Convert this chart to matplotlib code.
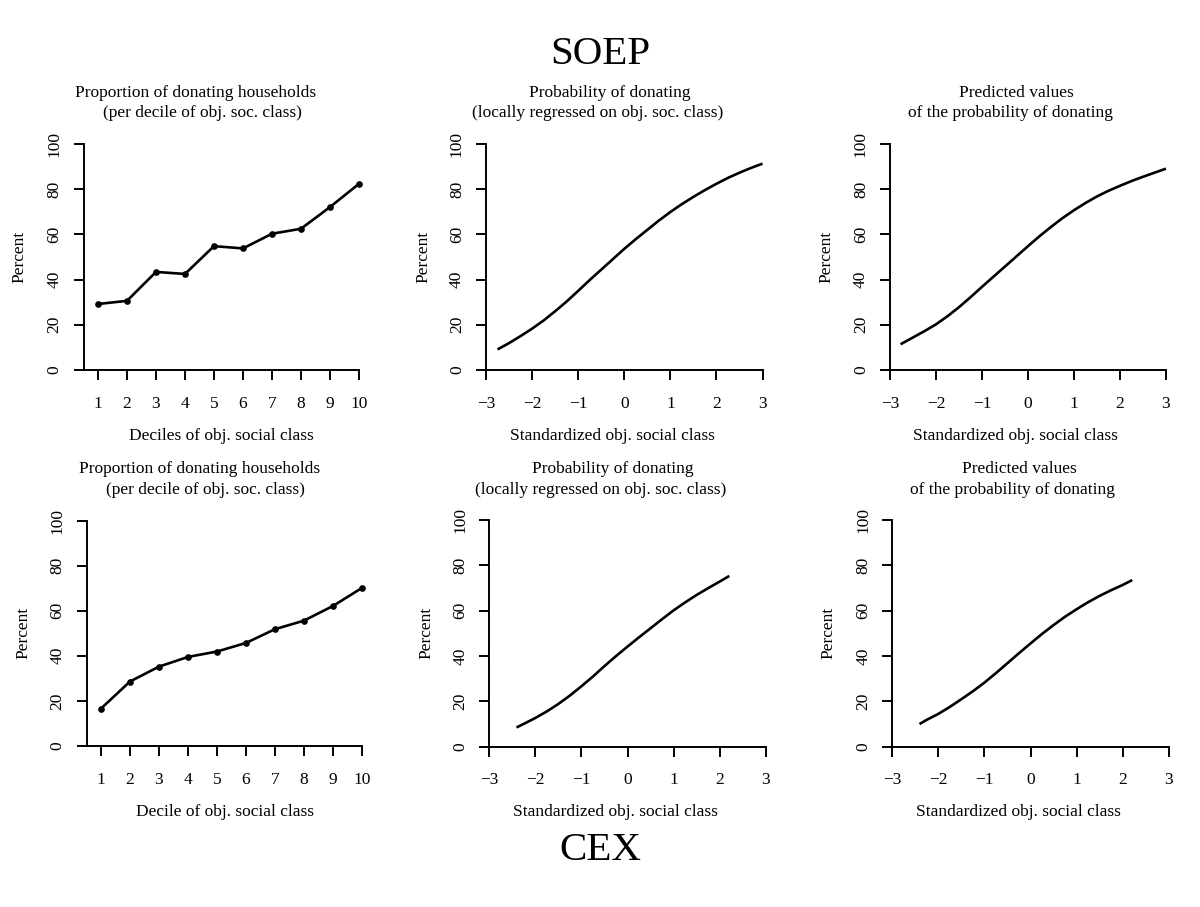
import matplotlib
matplotlib.use('Agg')
import matplotlib.pyplot as plt

plt.rcParams['font.family'] = ['Liberation Serif', 'DejaVu Serif']

# ---------------- data ----------------
deciles = list(range(1, 11))
soep_share = [29.2, 30.6, 43.4, 42.5, 54.8, 53.8, 60.3, 62.5, 72.1, 82.4]
cex_share = [16.6, 28.6, 35.2, 39.5, 41.9, 45.7, 51.8, 55.6, 62.1, 70.1]

soep_loess_x = [-2.75, -2.5, -2.25, -2, -1.75, -1.5, -1.25, -1, -0.75, -0.5, -0.25, 0,
                0.25, 0.5, 0.75, 1, 1.25, 1.5, 1.75, 2, 2.25, 2.5, 2.75, 3]
soep_loess_y = [9.1, 11.9, 15.0, 18.3, 21.9, 26.0, 30.3, 35.0, 39.8, 44.4, 49.0, 53.6,
                57.9, 62.0, 66.1, 69.9, 73.4, 76.6, 79.6, 82.4, 85.0, 87.3, 89.4, 91.3]

soep_pred_x = [-2.77, -2.5, -2.25, -2, -1.75, -1.5, -1.25, -1, -0.75, -0.5, -0.25, 0,
               0.25, 0.5, 0.75, 1, 1.25, 1.5, 1.75, 2, 2.25, 2.5, 2.75, 3]
soep_pred_y = [11.4, 14.4, 17.2, 20.2, 23.8, 27.8, 32.2, 36.8, 41.3, 45.8, 50.3, 54.8,
               59.2, 63.3, 67.2, 70.7, 73.9, 76.8, 79.3, 81.5, 83.6, 85.5, 87.3, 89.1]

cex_loess_x = [-2.41, -2.25, -2, -1.75, -1.5, -1.25, -1, -0.75, -0.5, -0.25, 0,
               0.25, 0.5, 0.75, 1, 1.25, 1.5, 1.75, 2, 2.21]
cex_loess_y = [8.4, 10.0, 12.6, 15.5, 18.8, 22.5, 26.6, 30.9, 35.5, 39.9, 44.1,
               48.2, 52.2, 56.2, 60.1, 63.6, 66.9, 69.9, 72.8, 75.3]

cex_pred_x = [-2.41, -2.25, -2, -1.75, -1.5, -1.25, -1, -0.75, -0.5, -0.25, 0,
              0.25, 0.5, 0.75, 1, 1.25, 1.5, 1.75, 2, 2.21]
cex_pred_y = [9.9, 11.8, 14.4, 17.5, 20.9, 24.4, 28.2, 32.4, 36.8, 41.2, 45.5,
              49.7, 53.6, 57.3, 60.6, 63.7, 66.5, 69.0, 71.3, 73.5]

y_ticks = [0, 20, 40, 60, 80, 100]
std_ticks = [-3, -2, -1, 0, 1, 2, 3]

title_prop = ["Proportion of donating households", "(per decile of obj. soc. class)"]
title_loess = ["Probability of donating", "(locally regressed on obj. soc. class)"]
title_pred = ["Predicted values", "of the probability of donating"]

# ---------------- layout ----------------
W, H = 1200, 907
fig = plt.figure(figsize=(W / 100, H / 100), dpi=100)
FS = 12.5
LW = 1.9
SPW = 1.4


def px_axes(l, r, t, b):
    return fig.add_axes([l / W, (H - b) / H, (r - l) / W, (b - t) / H])


def style(ax, xlim, xticks):
    ax.set_xlim(*xlim)
    ax.set_ylim(0, 100)
    ax.spines['top'].set_visible(False)
    ax.spines['right'].set_visible(False)
    for s in ('left', 'bottom'):
        ax.spines[s].set_linewidth(SPW)
    ax.set_xticks(xticks)
    ax.set_xticklabels([("\u2212%d" % -v) if v < 0 else str(v) for v in xticks])
    ax.set_yticks(y_ticks)
    ax.tick_params(axis='both', direction='out', length=7.2, width=SPW,
                   labelsize=FS)
    ax.tick_params(axis='x', pad=11.5)
    ax.tick_params(axis='y', pad=8)
    for lab in ax.get_yticklabels():
        lab.set_rotation(90)
        lab.set_va('center')
        lab.set_ha('right')


def figtext(x, y, s, size=FS, **kw):
    fig.text(x / W, 1 - y / H, s, ha='center', va='center', fontsize=size, **kw)


panels = [
    dict(box=(83.5, 359, 144, 370), xlim=(0.5, 10), ticks=deciles, kind='pts',
         x=deciles, y=soep_share, title=title_prop, tx=(196, 202), ty=(93, 113),
         xlabel="Deciles of obj. social class", xlx=221, xly=436, ylx=19),
    dict(box=(486, 762.5, 144, 370), xlim=(-3, 3), ticks=std_ticks, kind='line',
         x=soep_loess_x, y=soep_loess_y, title=title_loess, tx=(610, 598), ty=(93, 113),
         xlabel="Standardized obj. social class", xlx=612, xly=436, ylx=423),
    dict(box=(890, 1166, 144, 370), xlim=(-3, 3), ticks=std_ticks, kind='line',
         x=soep_pred_x, y=soep_pred_y, title=title_pred, tx=(1016, 1010), ty=(93, 113),
         xlabel="Standardized obj. social class", xlx=1015.5, xly=436, ylx=826),
    dict(box=(86.5, 362, 520.5, 746), xlim=(0.5, 10), ticks=deciles, kind='pts',
         x=deciles, y=cex_share, title=title_prop, tx=(200, 205.5), ty=(469, 490),
         xlabel="Decile of obj. social class", xlx=225, xly=812, ylx=23),
    dict(box=(489.3, 765.7, 520, 746.5), xlim=(-3, 3), ticks=std_ticks, kind='line',
         x=cex_loess_x, y=cex_loess_y, title=title_loess, tx=(613, 601), ty=(469, 490),
         xlabel="Standardized obj. social class", xlx=615.5, xly=812, ylx=426),
    dict(box=(892.3, 1168.7, 520, 746.5), xlim=(-3, 3), ticks=std_ticks, kind='line',
         x=cex_pred_x, y=cex_pred_y, title=title_pred, tx=(1019, 1012.7), ty=(469, 490),
         xlabel="Standardized obj. social class", xlx=1018.7, xly=812, ylx=828),
]

for p in panels:
    l, r, t, b = p['box']
    ax = px_axes(l, r, t, b)
    style(ax, p['xlim'], p['ticks'])
    if p['kind'] == 'pts':
        ax.plot(p['x'], p['y'], color='black', lw=LW, marker='o', ms=3.8,
                clip_on=False)
    else:
        ax.plot(p['x'], p['y'], color='black', lw=LW, clip_on=False,
                solid_capstyle='butt', solid_joinstyle='round')
    for line, cx, cy in zip(p['title'], p['tx'], p['ty']):
        figtext(cx, cy, line)
    figtext(p['xlx'], p['xly'], p['xlabel'])
    figtext(p['ylx'], (t + b) / 2, "Percent", rotation=90)

figtext(600, 54, "SOEP", size=29.5)
figtext(600, 850, "CEX", size=29.5)

fig.savefig('out.png', dpi=100)
